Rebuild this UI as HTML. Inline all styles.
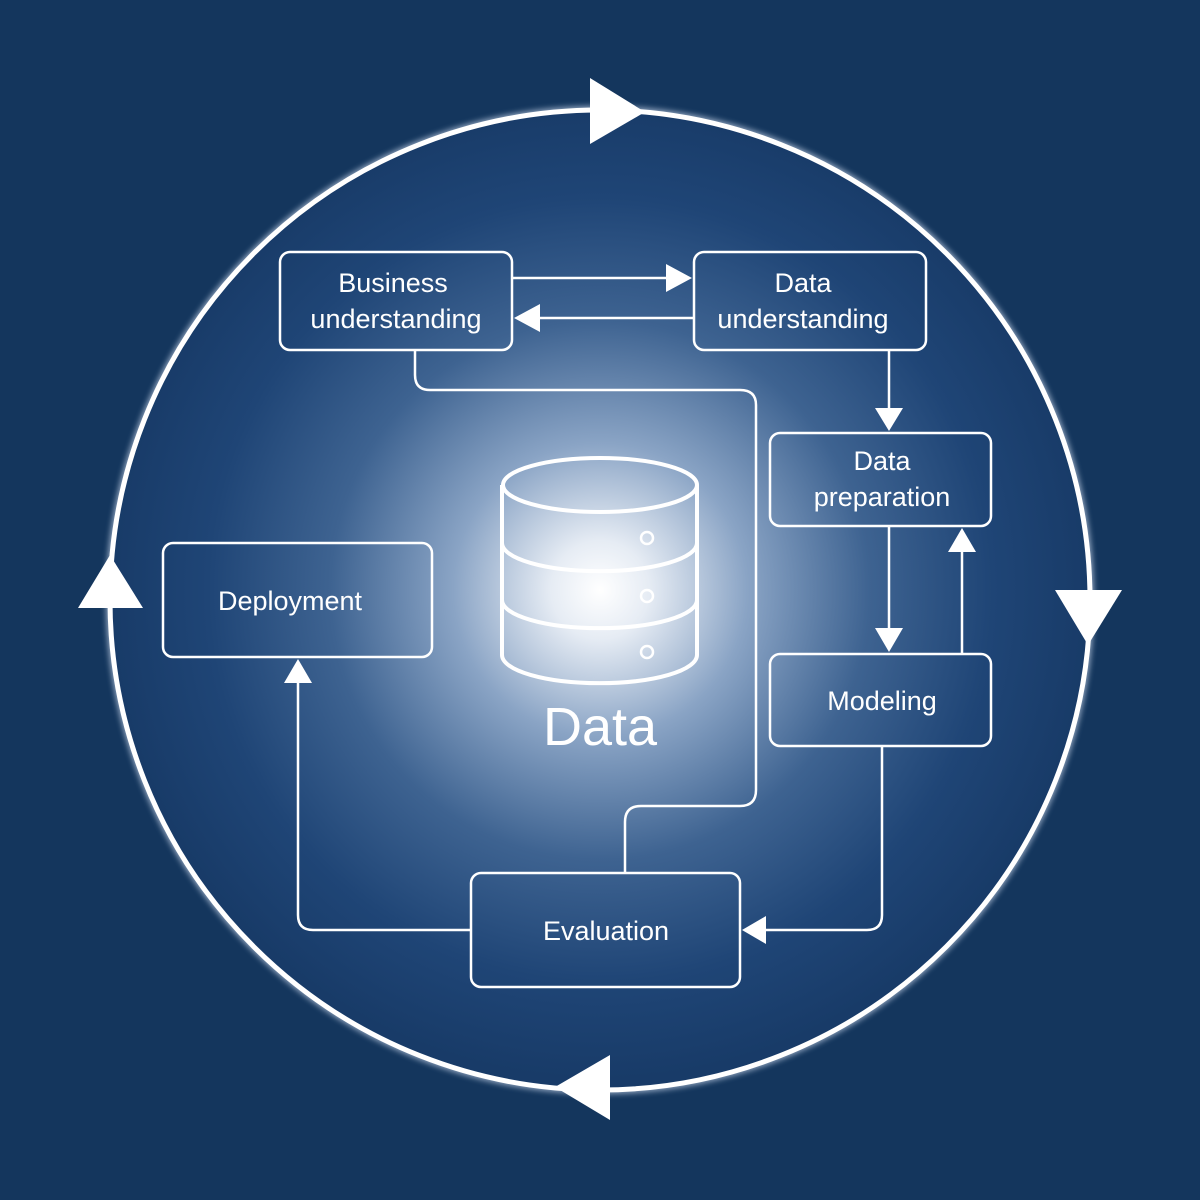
<!DOCTYPE html>
<html><head><meta charset="utf-8"><style>
html,body{margin:0;padding:0;background:#14365d;}
svg{display:block}
text{font-family:"Liberation Sans",sans-serif;fill:#fff}
</style></head><body>
<svg width="1200" height="1200" viewBox="0 0 1200 1200" xmlns="http://www.w3.org/2000/svg">
<defs>
<radialGradient id="g" cx="600" cy="590" r="490" gradientUnits="userSpaceOnUse">
<stop offset="0" stop-color="#ffffff"/>
<stop offset="0.1" stop-color="#e6ecf4"/>
<stop offset="0.3" stop-color="#8aa4c5"/>
<stop offset="0.55" stop-color="#3e6391"/>
<stop offset="0.8" stop-color="#1f4576"/>
<stop offset="1" stop-color="#183b68"/>
</radialGradient>
<filter id="glow" x="-10%" y="-10%" width="120%" height="120%"><feGaussianBlur stdDeviation="3"/></filter>
</defs>
<rect width="1200" height="1200" fill="#14365d"/>
<circle cx="600" cy="600" r="490" fill="none" stroke="#c8d6ea" stroke-width="8" filter="url(#glow)" opacity="0.7"/>
<circle cx="600" cy="600" r="490" fill="url(#g)" stroke="#fff" stroke-width="5"/>
<g fill="#fff">
<polygon points="590,78 645,112 590,144"/>
<polygon points="1055,590 1122,590 1088,645"/>
<polygon points="610,1055 555,1087 610,1120"/>
<polygon points="78,608 110,555 143,608"/>
</g>
<g fill="none" stroke="#fff" stroke-width="2.5">
<rect x="280" y="252" width="232" height="98" rx="10"/>
<rect x="694" y="252" width="232" height="98" rx="10"/>
<rect x="770" y="433" width="221" height="93" rx="10"/>
<rect x="770" y="654" width="221" height="92" rx="10"/>
<rect x="163" y="543" width="269" height="114" rx="10"/>
<rect x="471" y="873" width="269" height="114" rx="10"/>
<line x1="512" y1="278" x2="670" y2="278"/>
<line x1="694" y1="318" x2="538" y2="318"/>
<line x1="889" y1="350" x2="889" y2="410"/>
<line x1="889" y1="526" x2="889" y2="630"/>
<line x1="962" y1="654" x2="962" y2="550"/>
<path d="M882,746 V915 Q882,930 867,930 H764"/>
<path d="M471,930 H313 Q298,930 298,915 V683"/>
<path d="M625,873 V822 Q625,806 641,806 H740 Q756,806 756,790 V405 Q756,390 740,390 H430 Q415,390 415,375 V350"/>
</g>
<g fill="#fff">
<polygon points="666,264 692,278 666,292"/>
<polygon points="540,304 514,318 540,332"/>
<polygon points="875,408 889,431 903,408"/>
<polygon points="875,628 889,652 903,628"/>
<polygon points="948,552 962,528 976,552"/>
<polygon points="766,916 742,930 766,944"/>
<polygon points="284,683 298,659 312,683"/>
</g>
<g fill="none" stroke="#fff" stroke-width="4">
<path d="M502,485 V655 A97,28 0 0 0 697,655 V485"/>
<ellipse cx="600" cy="485" rx="97" ry="27"/>
<path d="M502,543 A97,28 0 0 0 697,543"/>
<path d="M502,600 A97,28 0 0 0 697,600"/>
<circle cx="647" cy="538" r="6" stroke-width="2.5"/>
<circle cx="647" cy="596" r="6" stroke-width="2.5"/>
<circle cx="647" cy="652" r="6" stroke-width="2.5"/>
</g>
<text x="600" y="745" font-size="54" text-anchor="middle">Data</text>
<g font-size="27" text-anchor="middle">
<text x="393" y="292">Business</text>
<text x="396" y="328">understanding</text>
<text x="803" y="292">Data</text>
<text x="803" y="328">understanding</text>
<text x="882" y="470">Data</text>
<text x="882" y="506">preparation</text>
<text x="882" y="710">Modeling</text>
<text x="290" y="610">Deployment</text>
<text x="606" y="940">Evaluation</text>
</g>
</svg>
</body></html>
